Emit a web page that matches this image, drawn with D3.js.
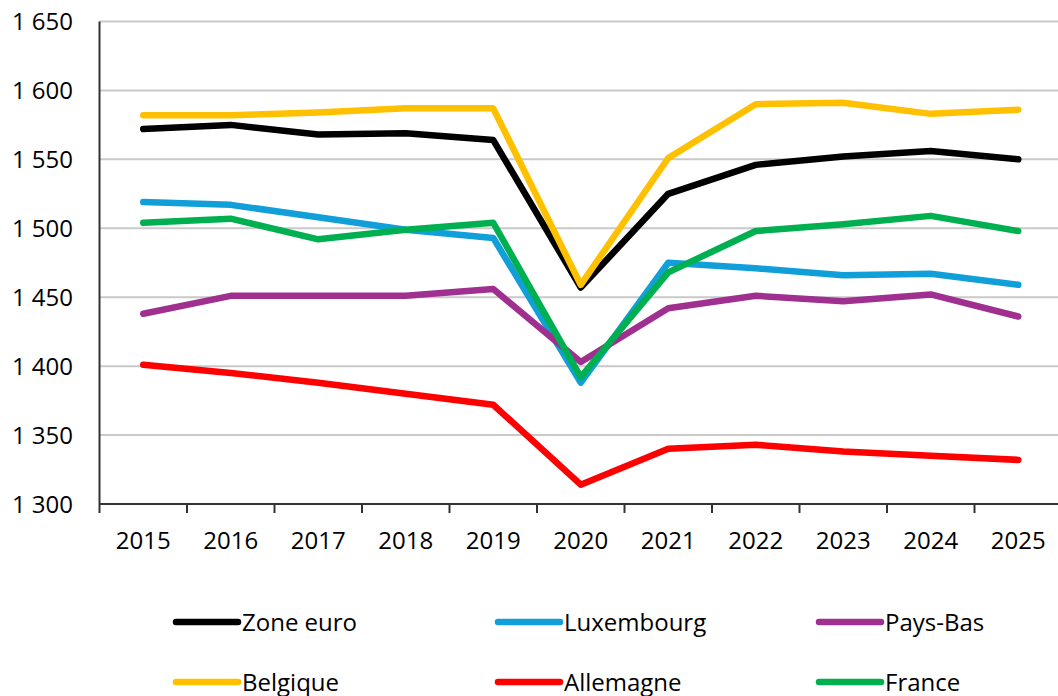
<!DOCTYPE html>
<html><head><meta charset="utf-8">
<script src="https://cdn.jsdelivr.net/npm/d3@7"></script>
<style>body{margin:0;background:#fff}svg{display:block}text{font-family:"Open Sans",sans-serif;fill:#000}</style>
</head><body><svg id="c" width="1058" height="696"></svg>
<script>
const years = ["2015","2016","2017","2018","2019","2020","2021","2022","2023","2024","2025"];
const yTicks = [1300,1350,1400,1450,1500,1550,1600,1650];
const seriesNames = ["Zone euro","Luxembourg","Pays-Bas","Belgique","Allemagne","France"];
const seriesColors = ["#000000","#109fd8","#a0308f","#ffc000","#ff0000","#00b050"];
const zoneEuro   = [1572,1575,1568,1569,1564,1457,1525,1546,1552,1556,1550];
const luxembourg = [1519,1517,1508,1499,1493,1388,1475,1471,1466,1467,1459];
const paysBas    = [1438,1451,1451,1451,1456,1403,1442,1451,1447,1452,1436];
const belgique   = [1582,1582,1584,1587,1587,1459,1551,1590,1591,1583,1586];
const allemagne  = [1401,1395,1388,1380,1372,1314,1340,1343,1338,1335,1332];
const france     = [1504,1507,1492,1499,1504,1392,1468,1498,1503,1509,1498];
const seriesValues = [zoneEuro,luxembourg,paysBas,belgique,allemagne,france];

const svg = d3.select("#c");
const L = 99.5, R = 1062, T = 21.5, B = 504;
const FS = 24;
const x = d3.scaleBand().domain(years).range([L,R]);
const y = d3.scaleLinear().domain([1300,1650]).range([B,T]);

// gridlines
svg.append("g").selectAll("line").data(yTicks.filter(d=>d>1300)).join("line")
  .attr("x1",L).attr("x2",1058).attr("y1",d=>y(d)).attr("y2",d=>y(d))
  .attr("stroke","#c9c9c9").attr("stroke-width",2);

// y labels
svg.append("g").selectAll("text").data(yTicks).join("text")
  .attr("x",73).attr("y",d=>y(d)).attr("dy","0.36em").attr("text-anchor","end")
  .attr("font-size",FS).text(d=>d3.format(",")(d).replace(","," "));

// x axis
const xa = svg.append("g").attr("transform",`translate(0,${B})`)
  .call(d3.axisBottom(x).tickSize(0).tickPadding(28));
xa.select(".domain").remove();
xa.selectAll("text").attr("font-size",FS).attr("font-family","Open Sans").attr("fill","#000");
const bounds = years.map(d=>x(d)).concat([R]);
svg.append("g").selectAll("line").data(bounds.filter(b=>b<1058)).join("line")
  .attr("x1",d=>d).attr("x2",d=>d).attr("y1",B).attr("y2",B+9)
  .attr("stroke","#333").attr("stroke-width",2);
svg.append("line").attr("x1",L).attr("x2",1058).attr("y1",B).attr("y2",B).attr("stroke","#333").attr("stroke-width",2);
svg.append("line").attr("x1",L).attr("x2",L).attr("y1",T).attr("y2",B).attr("stroke","#333").attr("stroke-width",2);

// lines
const line = d3.line().x((d,i)=>x(years[i])+x.bandwidth()/2).y(d=>y(d));
const order = [1,2,4,5,0,3];
order.forEach(k=>{
  svg.append("path").attr("d",line(seriesValues[k])).attr("fill","none")
    .attr("stroke",seriesColors[k]).attr("stroke-width",6.5)
    .attr("stroke-linecap","round").attr("stroke-linejoin","round");
});

// legend
const lgX = [176,498,819], lgY = [622,682];
seriesNames.forEach((n,i)=>{
  const cx = lgX[i%3], cy = lgY[Math.floor(i/3)];
  const g = svg.append("g");
  g.append("line").attr("x1",cx).attr("x2",cx+62).attr("y1",cy).attr("y2",cy)
    .attr("stroke",seriesColors[i]).attr("stroke-width",6.5).attr("stroke-linecap","round");
  g.append("text").attr("x",cx+66).attr("y",cy).attr("dy","0.36em").attr("font-size",FS).text(n);
});
</script></body></html>
